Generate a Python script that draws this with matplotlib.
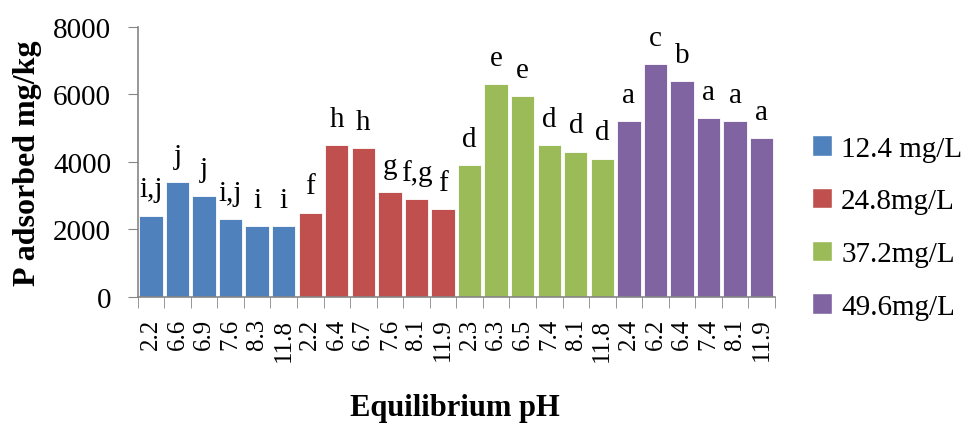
import matplotlib
matplotlib.use("Agg")
import matplotlib.pyplot as plt
from matplotlib.patches import Patch
from matplotlib.ticker import FixedLocator

plt.rcParams["font.family"] = ["Liberation Serif", "DejaVu Serif"]

# data
series_names = ["12.4 mg/L", "24.8mg/L", "37.2mg/L", "49.6mg/L"]
series_colors = ["#4F81BD", "#C0504D", "#9BBB59", "#8064A2"]

ph_12_4 = ["2.2", "6.6", "6.9", "7.6", "8.3", "11.8"]
ph_24_8 = ["2.2", "6.4", "6.7", "7.6", "8.1", "11.9"]
ph_37_2 = ["2.3", "6.3", "6.5", "7.4", "8.1", "11.8"]
ph_49_6 = ["2.4", "6.2", "6.4", "7.4", "8.1", "11.9"]

p_12_4 = [2400, 3400, 3000, 2300, 2100, 2100]
p_24_8 = [2500, 4500, 4400, 3100, 2900, 2600]
p_37_2 = [3900, 6300, 5950, 4500, 4300, 4100]
p_49_6 = [5200, 6900, 6400, 5300, 5200, 4700]

letters_12_4 = ["i,j", "j", "j", "i,j", "i", "i"]
letters_24_8 = ["f", "h", "h", "g", "f,g", "f"]
letters_37_2 = ["d", "e", "e", "d", "d", "d"]
letters_49_6 = ["a", "c", "b", "a", "a", "a"]

groups = [
    (ph_12_4, p_12_4, letters_12_4),
    (ph_24_8, p_24_8, letters_24_8),
    (ph_37_2, p_37_2, letters_37_2),
    (ph_49_6, p_49_6, letters_49_6),
]

fig = plt.figure(figsize=(9.76, 4.31), dpi=100)
ax = fig.add_axes([0.141, 0.309, 0.653, 0.626])

axis_gray = "#868686"
tick_labels = []
pos = 0
for (ph, vals, lets), color in zip(groups, series_colors):
    xs = list(range(pos, pos + len(vals)))
    ax.bar(xs, vals, width=0.88, color=color, edgecolor="white", linewidth=0.6)
    for x, v, t in zip(xs, vals, lets):
        ax.annotate(t, (x, v), xytext=(0, 14), textcoords="offset points",
                    ha="center", va="baseline", fontsize=21, color="black")
    tick_labels += ph
    pos += len(vals)

n = len(tick_labels)
ax.set_xlim(-0.5, n - 0.5)
ax.set_ylim(0, 8000)
ax.set_yticks([0, 2000, 4000, 6000, 8000])
ax.tick_params(axis="y", labelsize=21, length=7, color=axis_gray, pad=12)

ax.set_xticks(range(n))
ax.set_xticklabels(tick_labels, rotation=90, fontsize=18, va="top", ha="center")
ax.xaxis.set_minor_locator(FixedLocator([i - 0.5 for i in range(n + 1)]))
ax.tick_params(axis="x", which="major", length=0, pad=15)
ax.tick_params(axis="x", which="minor", length=8, color=axis_gray)

for side in ["top", "right"]:
    ax.spines[side].set_visible(False)
for side in ["left", "bottom"]:
    ax.spines[side].set_color(axis_gray)
    ax.spines[side].set_linewidth(1.2)

ax.set_ylabel("P adsorbed mg/kg", fontsize=23, fontweight="bold", labelpad=8)
fig.text(0.466, 0.053, "Equilibrium pH", fontsize=22, fontweight="bold",
         ha="center", va="center")

handles = [Patch(facecolor=c, edgecolor="white") for c in series_colors]
fig.legend(handles, series_names, loc="center left", bbox_to_anchor=(0.805, 0.47),
           frameon=False, fontsize=21, handlelength=0.7, handleheight=0.7,
           handletextpad=0.3, labelspacing=0.9)

fig.savefig("out.png", dpi=100)
